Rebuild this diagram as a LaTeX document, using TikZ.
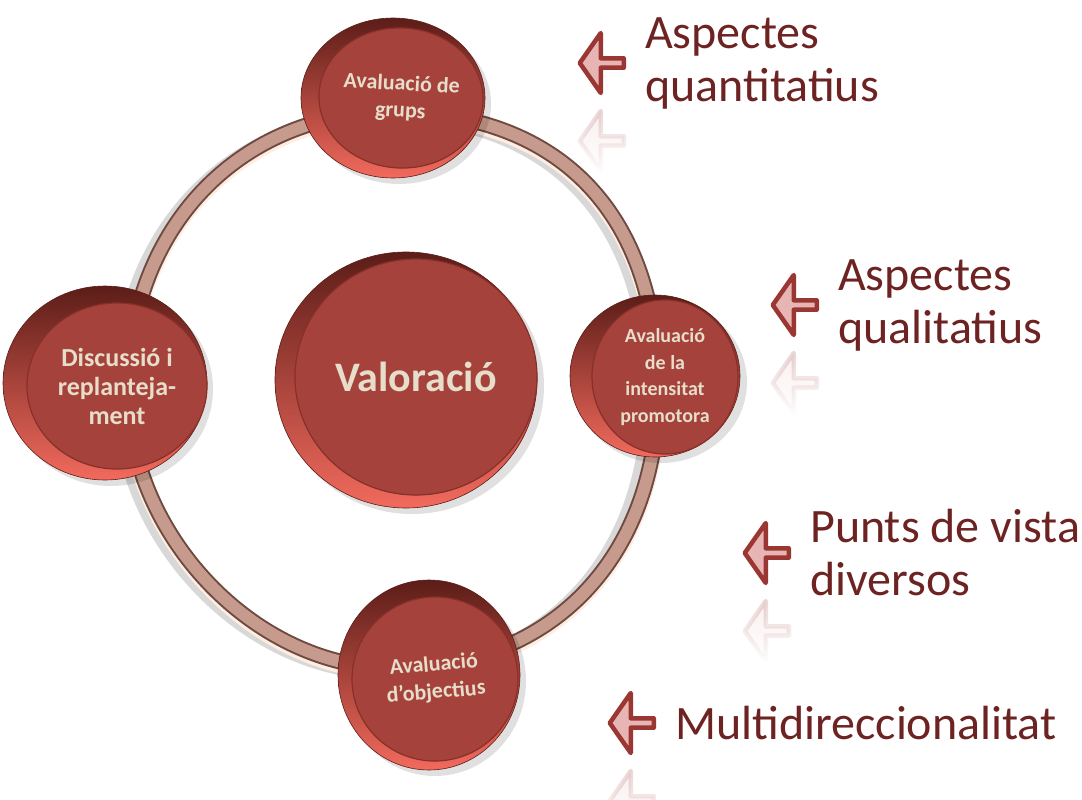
\documentclass[tikz,border=0pt]{standalone}
\usepackage{fontspec}
\setmainfont{Carlito}
\usetikzlibrary{shapes.geometric}
\usetikzlibrary{shapes.arrows}
\usetikzlibrary{fadings}
\usetikzlibrary{positioning}

\definecolor{facered}{HTML}{A6423C}
\definecolor{faceedge}{HTML}{873029}
\definecolor{rimlight}{HTML}{F26A5D}
\definecolor{rimdark}{HTML}{5C1D18}
\definecolor{disctext}{HTML}{E6DECA}
\definecolor{ringfill}{HTML}{C69B8D}
\definecolor{ringedge}{HTML}{6E4A40}
\definecolor{ringlight}{HTML}{FFEDE2}
\definecolor{labelred}{HTML}{6E2323}
\definecolor{arrowfill}{HTML}{E8B5B5}
\definecolor{arrowedge}{HTML}{9A3733}

\tikzfading[name=mirrorfade, top color=transparent!55, middle color=transparent!100, bottom color=transparent!100]

\tikzset{
  discface/.style={ellipse, fill=facered, draw=faceedge, line width=1.2pt,
    inner sep=0pt, text=disctext, align=center},
  discrim/.style={top color=rimdark, bottom color=rimlight, draw=rimdark, line width=.6pt},
  discshadow/.style={fill=black, opacity=.12},
  pointer/.style={single arrow, shape border rotate=180, fill=arrowfill, draw=arrowedge,
    line width=4.5pt, line join=round, minimum height=44pt, minimum width=60pt,
    single arrow head extend=12pt, single arrow tip angle=110, inner sep=0pt},
  pointermirror/.style={pointer, opacity=.45, path fading=mirrorfade},
  aspectlabel/.style={text=labelred, align=left, inner sep=0pt,
    font=\fontsize{48}{53}\selectfont},
}

\begin{document}
\begin{tikzpicture}[x=1pt,y=-1pt]
  \useasboundingbox (0,0) rectangle (1082,800);
  \fill[white] (0,0) rectangle (1082,800);

  % Ring
  \def\ringpath{(658,390) .. controls (658,557) and (552,668) .. (393,668)
    .. controls (255,668) and (128,535) .. (128,390)
    .. controls (128,229) and (239,112) .. (393,112)
    .. controls (560,112) and (658,215) .. (658,390) -- cycle}
  \draw[gray, opacity=.3, line width=15pt, xshift=-9pt, yshift=-4pt] \ringpath;
  \draw[ringlight, line width=17pt, yshift=-3pt] \ringpath;
  \draw[ringedge, line width=16pt] \ringpath;
  \draw[ringfill, line width=12pt] \ringpath;

  % Shadows and rims
  \fill[discshadow] (399,104) ellipse [x radius=92, y radius=80];
  \fill[discshadow] (412,386) ellipse [x radius=132, y radius=128];
  \fill[discshadow] (661,382) ellipse [x radius=86, y radius=81];
  \fill[discshadow] (111,389) ellipse [x radius=102, y radius=97];
  \fill[discshadow] (435,681) ellipse [x radius=91, y radius=95];
  \shade[discrim] (393,98) ellipse [x radius=92, y radius=80];
  \shade[discrim] (406,380) ellipse [x radius=131, y radius=128];
  \shade[discrim] (655,376) ellipse [x radius=85, y radius=81];
  \shade[discrim] (105,383) ellipse [x radius=102, y radius=97];
  \shade[discrim] (429,675) ellipse [x radius=91, y radius=95];

  % Discs
  \node[discface, minimum width=162pt, minimum height=140pt, rotate=-3,
    font=\bfseries\fontsize{22}{27}\selectfont] (grups) at (401,98)
    {Avaluació de\\grups};
  \node[discface, minimum width=242pt, minimum height=236pt,
    font=\bfseries\fontsize{42}{48}\selectfont] (valoracio) at (416,377)
    {Valoració};
  \node[discface, minimum width=146pt, minimum height=154pt,
    font=\bfseries\fontsize{20}{26.5}\selectfont] (intensitat) at (665,377)
    {Avaluació\\de la\\intensitat\\promotora};
  \node[discface, minimum width=180pt, minimum height=166pt,
    font=\bfseries\fontsize{26}{29}\selectfont] (discussio) at (117,386)
    {Discussió i\\replanteja-\\ment};
  \node[discface, minimum width=166pt, minimum height=164pt, rotate=5,
    font=\bfseries\fontsize{22}{27.5}\selectfont] (objectius) at (435,679)
    {Avaluació\\d’objectius};

  % Arrows and labels
  \node[pointer, anchor=tip] (arw1) at (577,63) {};
  \node[pointermirror, anchor=tip] (arw1m) at (577,141) {};
  \node[aspectlabel, right=19pt of arw1.tail] (quant) {Aspectes\\quantitatius};

  \node[pointer, anchor=tip] (arw2) at (770,305) {};
  \node[pointermirror, anchor=tip] (arw2m) at (770,383) {};
  \node[aspectlabel, right=19pt of arw2.tail] (qual) {Aspectes\\qualitatius};

  \node[pointer, anchor=tip] (arw3) at (742,553) {};
  \node[pointermirror, anchor=tip] (arw3m) at (742,631) {};
  \node[aspectlabel, right=19pt of arw3.tail] (punts) {Punts de vista\\diversos};

  \node[pointer, anchor=tip] (arw4) at (607,723) {};
  \node[pointermirror, anchor=tip] (arw4m) at (607,801) {};
  \node[aspectlabel, right=19pt of arw4.tail] (multi) {Multidireccionalitat};
\end{tikzpicture}
\end{document}
